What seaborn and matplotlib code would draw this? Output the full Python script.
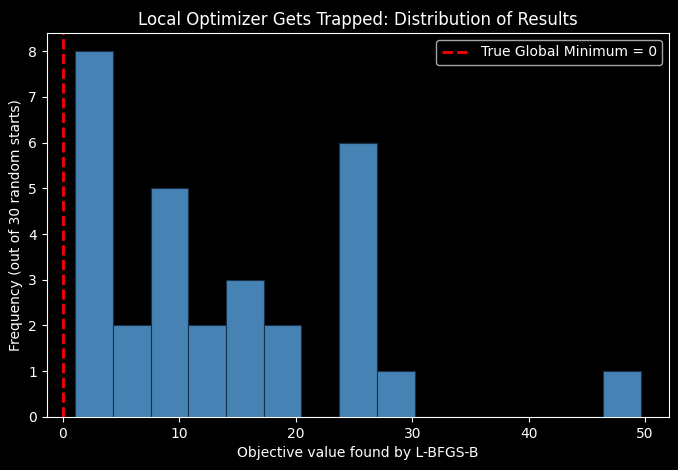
import numpy as np
import pandas as pd
import seaborn as sns
from matplotlib import pyplot as plt

plt.style.use('dark_background')

# histogram: 15 bins, 30 starts in total
bin_edges = [1.04, 4.28, 7.52, 10.76, 14.00, 17.24, 20.48, 23.72,
             26.96, 30.20, 33.44, 36.68, 39.92, 43.16, 46.40, 49.64]
counts = [8, 2, 5, 2, 3, 2, 0, 6, 1, 0, 0, 0, 0, 0, 1]
global_min = 0

mids = [(a + b) / 2 for a, b in zip(bin_edges[:-1], bin_edges[1:])]
df = pd.DataFrame({'value': mids, 'n': counts})

fig, ax = plt.subplots(figsize=(6.78, 4.70), dpi=100)
sns.histplot(data=df, x='value', weights='n', bins=bin_edges,
             color='steelblue', alpha=1.0, edgecolor='#1a3048', linewidth=0.8, ax=ax)
ax.axvline(global_min, color='red', linestyle='--', linewidth=2,
           label='True Global Minimum = 0')
ax.set_xlabel('Objective value found by L-BFGS-B')
ax.set_ylabel('Frequency (out of 30 random starts)')
ax.set_title('Local Optimizer Gets Trapped: Distribution of Results')
ax.legend(loc='upper right')
fig.subplots_adjust(left=0.069, right=0.987, top=0.930, bottom=0.113)
plt.savefig('out.png')
